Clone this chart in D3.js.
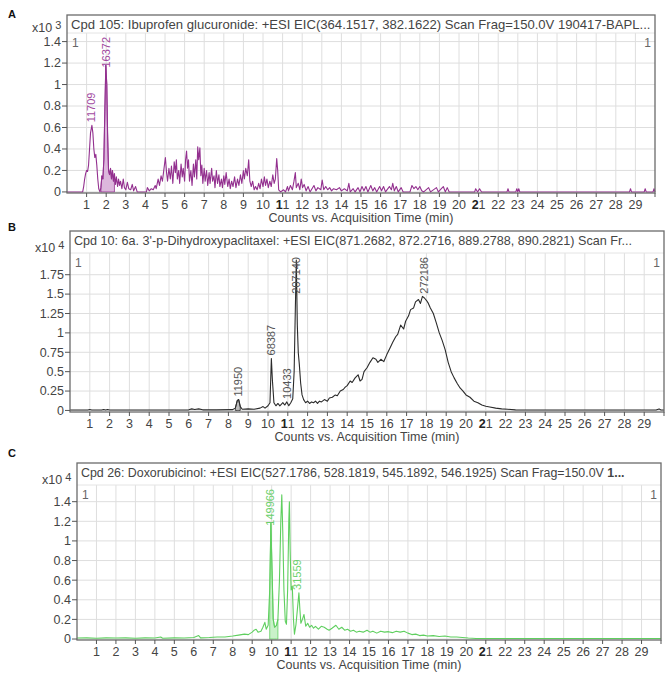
<!DOCTYPE html>
<html>
<head>
<meta charset="utf-8">
<script src="https://cdn.jsdelivr.net/npm/d3@7"></script>
<style>
body { margin: 0; background: #fff; }
svg { display: block; font-family: "Liberation Sans", Arial, sans-serif; }
</style>
</head>
<body>
<svg id="chart" width="669" height="675"></svg>
<script>
// ---- data, [minutes, counts] ----
const minuteTicks = d3.range(0, 31);

// A: ibuprofen glucuronide (x10^3 counts)
const traceA = [
    [0,0],[0.8,0],[0.85,0.05],[0.9,0.12],[0.95,0.17],[1.0,0.2],[1.05,0.19],[1.1,0.25],[1.15,0.4],[1.2,0.55],
    [1.27,0.62],[1.32,0.55],[1.37,0.4],[1.42,0.32],[1.47,0.35],[1.52,0.25],[1.57,0.12],[1.62,0.03],[1.68,0],
    [1.73,0.04],[1.78,0.15],[1.83,0.12],[1.88,0.3],[1.93,0.75],[1.98,1.18],[2.03,1.0],[2.07,0.55],[2.12,0.2],
    [2.17,0.16],[2.22,0.22],[2.27,0.12],[2.32,0.2],[2.37,0.1],[2.42,0.17],[2.47,0.07],[2.52,0.14],[2.58,0.05],
    [2.63,0.12],[2.68,0.06],[2.73,0.1],[2.8,0.03],[2.87,0.12],[2.93,0.04],[3.0,0.02],[3.08,0.09],[3.15,0.03],
    [3.25,0.02],[3.33,0.07],[3.4,0.01],[3.5,0.05],[3.58,0],[4.05,0],[4.1,0.04],[4.2,0.01],[4.3,0.03],[4.4,0.02],
    [4.5,0.06],[4.55,0.03],[4.65,0.12],[4.72,0.06],[4.8,0.15],[4.87,0.1],[4.95,0.22],[5.02,0.32],[5.08,0.18],
    [5.13,0.1],[5.2,0.22],[5.27,0.12],[5.33,0.24],[5.4,0.08],[5.47,0.28],[5.53,0.18],[5.58,0.3],[5.63,0.12],
    [5.7,0.2],[5.75,0.08],[5.82,0.26],[5.88,0.14],[5.93,0.22],[6.0,0.1],[6.05,0.3],[6.1,0.38],[6.15,0.22],
    [6.2,0.3],[6.25,0.1],[6.32,0.2],[6.38,0.06],[6.45,0.26],[6.5,0.14],[6.57,0.3],[6.62,0.12],[6.67,0.42],
    [6.72,0.3],[6.78,0.41],[6.83,0.15],[6.88,0.25],[6.93,0.08],[7.0,0.22],[7.05,0.1],[7.12,0.2],[7.18,0.06],
    [7.25,0.18],[7.3,0.08],[7.38,0.22],[7.43,0.1],[7.5,0.15],[7.55,0.04],[7.62,0.2],[7.68,0.08],[7.75,0.16],
    [7.8,0.05],[7.88,0.12],[7.93,0.04],[8.0,0.15],[8.05,0.07],[8.12,0.18],[8.2,0.05],[8.27,0.12],[8.33,0.03],
    [8.4,0.1],[8.47,0.05],[8.55,0.14],[8.62,0.04],[8.7,0.12],[8.77,0.06],[8.85,0.16],[8.92,0.08],[9.0,0.2],
    [9.05,0.12],[9.12,0.22],[9.2,0.15],[9.27,0.3],[9.33,0.1],[9.4,0.05],[9.47,0.1],[9.55,0.02],[9.62,0.05],
    [9.7,0.02],[9.78,0.08],[9.85,0.03],[9.92,0.12],[10.0,0.05],[10.07,0.14],[10.13,0.06],[10.2,0.12],
    [10.27,0.04],[10.35,0.1],[10.42,0.05],[10.5,0.16],[10.57,0.08],[10.63,0.12],[10.7,0.31],[10.75,0.2],
    [10.8,0.02],[10.9,0],[11.05,0.02],[11.15,0],[11.25,0.05],[11.3,0.01],[11.4,0.06],[11.5,0.02],[11.58,0.1],
    [11.65,0.18],[11.7,0.04],[11.8,0.08],[11.88,0.02],[11.95,0.12],[12.02,0.04],[12.1,0.07],[12.2,0.01],
    [12.3,0.05],[12.4,0],[12.5,0.03],[12.6,0.06],[12.7,0.01],[12.8,0.04],[12.95,0.02],[13.02,0.11],[13.1,0.02],
    [13.2,0.05],[13.3,0.02],[13.4,0.04],[13.5,0.01],[13.6,0.03],[13.75,0.02],[13.9,0.04],[14.0,0.01],
    [14.15,0.03],[14.3,0.01],[14.38,0.08],[14.45,0],[14.6,0.03],[14.7,0],[14.85,0.04],[14.95,0],[15.05,0.05],
    [15.15,0.01],[15.25,0.05],[15.35,0],[15.5,0.06],[15.6,0.01],[15.7,0.04],[15.8,0],[15.95,0.05],[16.05,0.01],
    [16.15,0.05],[16.25,0],[16.45,0.05],[16.55,0.02],[16.62,0.08],[16.7,0.01],[16.8,0.05],[16.9,0],
    [17.05,0.04],[17.15,0],[17.5,0],[17.6,0.06],[17.7,0.03],[17.8,0.05],[17.9,0.02],[18.0,0.05],[18.1,0.01],
    [18.2,0],[18.45,0.04],[18.55,0],[18.85,0.04],[18.95,0],[19.1,0.03],[19.2,0.05],[19.3,0],[19.4,0.04],
    [19.5,0],[20.8,0],[20.85,0.03],[20.95,0],[21.05,0.03],[21.15,0],[22.45,0],[22.5,0.03],[22.55,0],
    [22.9,0],[22.95,0.03],[23.0,0],[23.05,0.03],[23.1,0],[28.7,0],[28.75,0.03],[28.8,0],[29.45,0],
    [29.5,0.03],[29.55,0],[29.9,0],[29.95,0.03],[30,0]
];
const peakTimesA = [1.25, 1.98];
const peakNamesA = ["11709", "16372"];
const fillRangeA = [1.72, 2.45];
const yTicksA = [0, 0.2, 0.4, 0.6, 0.8, 1, 1.2, 1.4];

// B: 6a,3'-p-dihydroxypaclitaxel (x10^4 counts)
const traceB = [
    [0,0.005],[0.9,0.005],[1.0,0.012],[1.1,0.005],[1.6,0.005],[1.7,0.012],[1.8,0.005],[1.9,0.012],[2.0,0.005],
    [6.0,0.008],[6.15,0.02],[6.3,0.012],[6.5,0.02],[6.7,0.008],[7.4,0.008],[8.2,0.01],[8.35,0.03],[8.45,0.13],
    [8.52,0.14],[8.6,0.05],[8.7,0.015],[9.0,0.02],[9.3,0.015],[9.6,0.03],[9.75,0.05],[9.85,0.03],[10.0,0.06],
    [10.1,0.1],[10.17,0.67],[10.22,0.4],[10.3,0.1],[10.4,0.06],[10.5,0.09],[10.6,0.06],[10.75,0.1],[10.85,0.07],
    [10.95,0.11],[11.05,0.06],[11.15,0.1],[11.25,0.15],[11.32,0.5],[11.38,1.3],[11.43,1.94],[11.48,1.1],
    [11.53,0.74],[11.58,0.6],[11.65,0.35],[11.72,0.2],[11.8,0.14],[11.9,0.1],[12.0,0.12],[12.1,0.09],
    [12.2,0.11],[12.3,0.1],[12.4,0.12],[12.5,0.09],[12.6,0.12],[12.7,0.11],[12.85,0.14],[13.0,0.12],
    [13.1,0.16],[13.25,0.17],[13.4,0.2],[13.5,0.19],[13.65,0.25],[13.8,0.27],[13.9,0.3],[14.0,0.32],
    [14.15,0.38],[14.25,0.36],[14.4,0.42],[14.55,0.46],[14.65,0.38],[14.75,0.4],[14.85,0.5],[15.0,0.55],
    [15.15,0.62],[15.3,0.68],[15.45,0.66],[15.55,0.62],[15.7,0.66],[15.85,0.63],[16.0,0.72],[16.15,0.8],
    [16.3,0.88],[16.45,0.95],[16.55,0.98],[16.7,1.1],[16.85,1.05],[16.95,1.15],[17.1,1.22],[17.2,1.3],
    [17.35,1.32],[17.45,1.4],[17.6,1.43],[17.7,1.38],[17.8,1.47],[17.9,1.45],[18.0,1.42],[18.1,1.38],
    [18.2,1.32],[18.35,1.25],[18.5,1.13],[18.65,1.0],[18.8,0.9],[18.95,0.78],[19.1,0.62],[19.25,0.5],
    [19.4,0.42],[19.55,0.35],[19.7,0.29],[19.85,0.25],[20.0,0.2],[20.2,0.17],[20.4,0.12],[20.6,0.1],
    [20.8,0.07],[21.0,0.055],[21.2,0.045],[21.5,0.03],[21.8,0.02],[22.1,0.015],[22.5,0.008],[25,0.005],
    [29.6,0.005],[29.75,0.02],[29.85,0.005],[30,0.005]
];
const peakTimesB = [8.5, 10.17, 10.95, 11.43, 17.9];
const peakNamesB = ["11950", "68387", "10433", "207140", "272186"];
const fillRangeB = [8.35, 8.65];
const yTicksB = [0, 0.25, 0.5, 0.75, 1, 1.25, 1.5, 1.75];

// C: doxorubicinol (x10^4 counts)
const traceC = [
    [0,0.01],[0.5,0.012],[1.0,0.008],[1.5,0.012],[2,0.01],[2.5,0.012],[3,0.008],[3.5,0.012],[4,0.01],
    [4.3,0.02],[4.4,0.008],[5,0.012],[5.5,0.01],[6,0.015],[6.25,0.035],[6.35,0.012],[6.8,0.015],[7.2,0.02],
    [7.6,0.02],[8.0,0.03],[8.3,0.04],[8.6,0.05],[8.8,0.045],[9.0,0.07],[9.1,0.09],[9.2,0.1],[9.3,0.07],
    [9.45,0.08],[9.55,0.12],[9.65,0.17],[9.72,0.1],[9.82,0.14],[9.9,0.5],[9.96,1.18],[10.02,0.7],[10.08,0.2],
    [10.15,0.12],[10.25,0.14],[10.32,0.2],[10.4,0.6],[10.47,1.2],[10.52,1.47],[10.57,1.1],[10.63,0.5],
    [10.7,0.18],[10.76,0.15],[10.82,0.5],[10.88,1.2],[10.91,1.4],[10.95,0.9],[11.0,0.5],[11.06,0.54],
    [11.12,0.2],[11.17,0.05],[11.25,0.15],[11.32,0.3],[11.4,0.47],[11.45,0.3],[11.5,0.16],[11.58,0.2],
    [11.66,0.25],[11.75,0.13],[11.85,0.16],[11.95,0.12],[12.05,0.14],[12.15,0.11],[12.25,0.13],[12.4,0.1],
    [12.55,0.13],[12.7,0.12],[12.85,0.1],[12.95,0.09],[13.1,0.11],[13.3,0.14],[13.45,0.1],[13.6,0.12],
    [13.75,0.09],[13.9,0.1],[14.05,0.08],[14.2,0.09],[14.35,0.07],[14.5,0.08],[14.7,0.07],[14.9,0.09],
    [15.05,0.07],[15.2,0.08],[15.4,0.06],[15.6,0.08],[15.8,0.07],[16.0,0.075],[16.2,0.065],[16.4,0.08],
    [16.6,0.07],[16.8,0.08],[17.0,0.06],[17.2,0.045],[17.4,0.05],[17.6,0.035],[17.8,0.04],[18.0,0.03],
    [18.3,0.035],[18.6,0.025],[18.9,0.03],[19.2,0.02],[19.5,0.02],[19.8,0.015],[20.1,0.01],[20.5,0.006],
    [21,0.006],[30,0.006]
];
const peakTimesC = [9.9, 11.28];
const peakNamesC = ["149966", "31559"];
const fillRangeC = [9.85, 10.32];
const yTicksC = [0, 0.2, 0.4, 0.6, 0.8, 1, 1.2, 1.4];

const svg = d3.select("#chart");

function drawPanel(p) {
    const g = svg.append("g");
    const x = d3.scaleLinear().domain([0, 30]).range([p.left, p.right]);
    const y = d3.scaleLinear().domain(p.yDomain).range([p.bottom, p.head]);

    g.append("text")
        .attr("x", 8).attr("y", p.letterY)
        .attr("font-size", 11).attr("font-weight", "bold").attr("fill", "#111")
        .text(p.letter);

    // grid
    g.selectAll(".vg").data(minuteTicks.slice(1, 30)).join("line")
        .attr("x1", d => x(d)).attr("x2", d => x(d))
        .attr("y1", p.head).attr("y2", p.bottom)
        .attr("stroke", "#dedede");
    g.selectAll(".hg").data(p.yTicks).join("line")
        .attr("x1", p.left).attr("x2", p.right)
        .attr("y1", d => y(d)).attr("y2", d => y(d))
        .attr("stroke", "#dedede");
    g.append("line")
        .attr("x1", p.left).attr("x2", p.right)
        .attr("y1", p.head).attr("y2", p.head)
        .attr("stroke", "#e4e4e4");

    // integrated area + trace
    const pts = p.trace;
    const fillPts = pts.filter(d => d[0] >= p.fillRange[0] && d[0] <= p.fillRange[1]);
    g.append("path")
        .datum(fillPts)
        .attr("d", d3.area().x(d => x(d[0])).y0(y(0)).y1(d => y(d[1])))
        .attr("fill", p.fill).attr("stroke", p.color).attr("stroke-width", 0.8);
    g.append("path")
        .datum(pts)
        .attr("d", d3.line().x(d => x(d[0])).y(d => y(d[1])))
        .attr("fill", "none").attr("stroke", p.color).attr("stroke-width", 1.1)
        .attr("stroke-linejoin", "round");

    // peak labels
    p.peakTimes.forEach((t, i) => {
        let m = 0;
        pts.forEach(d => { if (Math.abs(d[0] - t) <= 0.15 && d[1] > m) m = d[1]; });
        const lab = g.append("text")
            .attr("font-size", 11).attr("fill", p.labelColor)
            .text(p.peakNames[i]);
        const len = lab.node().getComputedTextLength();
        const y0 = Math.max(y(m) - 3, p.head + 4 + len);
        lab.attr("transform", `translate(${x(t)},${y0}) rotate(-90)`)
            .attr("dy", "0.36em");
    });

    // frame
    g.append("rect")
        .attr("x", p.left).attr("y", p.top)
        .attr("width", p.right - p.left).attr("height", p.bottom - p.top)
        .attr("fill", "none").attr("stroke", "#6b6b6b").attr("stroke-width", 1.3);

    g.append("text")
        .attr("x", p.left + 4).attr("y", p.top + 14)
        .attr("font-size", p.titleSize).attr("fill", "#444")
        .text(p.title)
        .append("tspan").attr("font-weight", "bold").text(p.titleBold || "");
    g.append("text")
        .attr("x", p.left + 5).attr("y", p.head + 14)
        .attr("font-size", 12).attr("fill", "#666").text("1");
    g.append("text")
        .attr("x", p.right - 4).attr("y", p.head + 14).attr("text-anchor", "end")
        .attr("font-size", 12).attr("fill", "#666").text("1");

    // y axis
    g.selectAll(".yt").data(p.yTicks).join("line")
        .attr("x1", p.left - 5).attr("x2", p.left)
        .attr("y1", d => y(d)).attr("y2", d => y(d))
        .attr("stroke", "#555");
    g.selectAll(".yl").data(p.yTicks).join("text")
        .attr("x", p.left - 6).attr("y", d => y(d)).attr("dy", "0.35em")
        .attr("text-anchor", "end").attr("font-size", 12.5).attr("fill", "#444")
        .text(d => String(d));
    g.append("text")
        .attr("x", p.left - 35).attr("y", p.head - 1)
        .attr("font-size", 12.5).attr("fill", "#444")
        .text("x10")
        .append("tspan").attr("dx", 3).attr("dy", -3).attr("font-size", 11).text(p.exponent);

    // x axis
    g.selectAll(".xt").data(minuteTicks.slice(1)).join("line")
        .attr("x1", d => x(d)).attr("x2", d => x(d))
        .attr("y1", p.bottom).attr("y2", p.bottom + 4)
        .attr("stroke", "#555");
    const xl = g.selectAll(".xl").data(minuteTicks.slice(1, 30)).join("text")
        .attr("x", d => x(d)).attr("y", p.bottom + 16)
        .attr("text-anchor", "middle").attr("font-size", 12.5).attr("fill", "#444");
    xl.each(function (d) {
        const s = String(d);
        const t = d3.select(this);
        if (d === 11 || d === 21) {
            t.append("tspan").attr("font-weight", "bold").attr("fill", "#222").text(s[0]);
            t.append("tspan").text(s.slice(1));
        } else {
            t.text(s);
        }
    });
    g.append("text")
        .attr("x", (p.left + p.right) / 2).attr("y", p.bottom + 29)
        .attr("text-anchor", "middle").attr("font-size", 12.5).attr("fill", "#444")
        .text("Counts vs. Acquisition Time (min)");
}

drawPanel({
    letter: "A", letterY: 18,
    left: 67, right: 655, top: 15, head: 33, bottom: 193,
    yDomain: [-0.01, 1.48], yTicks: yTicksA, exponent: "3",
    trace: traceA, fillRange: fillRangeA,
    peakTimes: peakTimesA, peakNames: peakNamesA,
    color: "#93308f", fill: "#dcb6dc", labelColor: "#a24aa0",
    titleSize: 13.1,
    title: "Cpd 105: Ibuprofen glucuronide: +ESI EIC(364.1517, 382.1622) Scan Frag=150.0V 190417-BAPL..."
});
drawPanel({
    letter: "B", letterY: 231,
    left: 70, right: 664, top: 231, head: 253, bottom: 412,
    yDomain: [-0.02, 2.03], yTicks: yTicksB, exponent: "4",
    trace: traceB, fillRange: fillRangeB,
    peakTimes: peakTimesB, peakNames: peakNamesB,
    color: "#2b2b2b", fill: "#bdbdbd", labelColor: "#555",
    titleSize: 12.6,
    title: "Cpd 10: 6a. 3'-p-Dihydroxypaclitaxel: +ESI EIC(871.2682, 872.2716, 889.2788, 890.2821) Scan Fr..."
});
drawPanel({
    letter: "C", letterY: 457,
    left: 77, right: 661, top: 463, head: 485, bottom: 640,
    yDomain: [-0.01, 1.57], yTicks: yTicksC, exponent: "4",
    trace: traceC, fillRange: fillRangeC,
    peakTimes: peakTimesC, peakNames: peakNamesC,
    color: "#5fcf5f", fill: "#c9f1c9", labelColor: "#6ccf6c",
    titleSize: 12.4,
    title: "Cpd 26: Doxorubicinol: +ESI EIC(527.1786, 528.1819, 545.1892, 546.1925) Scan Frag=150.0V ",
    titleBold: "1..."
});
</script>
</body>
</html>
